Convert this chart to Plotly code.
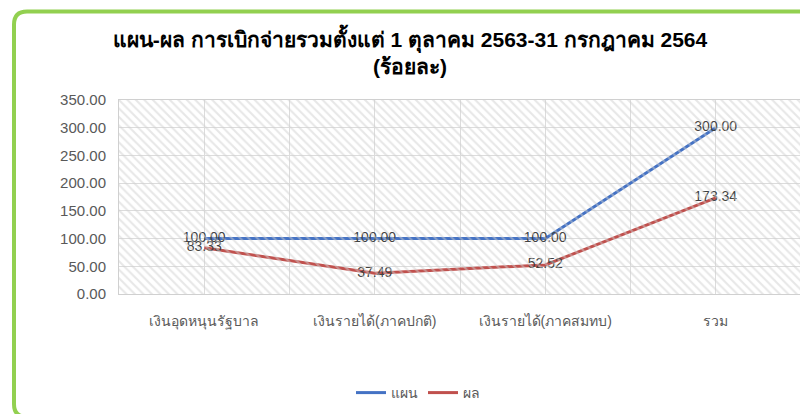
import plotly.graph_objects as go

categories = ["เงินอุดหนุนรัฐบาล", "เงินรายได้(ภาคปกติ)", "เงินรายได้(ภาคสมทบ)", "รวม"]
plan = [100.00, 100.00, 100.00, 300.00]
result = [83.33, 37.49, 52.52, 173.34]
series_names = ["แผน", "ผล"]
title_lines = ["แผน-ผล การเบิกจ่ายรวมตั้งแต่ 1 ตุลาคม 2563-31 กรกฎาคม 2564", "(ร้อยละ)"]

# page body has an 8px margin: convert page pixels to figure pixels
OFF = 8
W, H = 808, 414
# desired plot area in page pixels: x 119..801, y 100..294
L = 119 - OFF
R = W - (801 - OFF)
T = 100 - OFF
B = H - (294 - OFF)
pw, ph = W - L - R, H - T - B

def px(x):  # page pixel -> paper x
    return (x - OFF - L) / pw

def py(y):  # page pixel -> paper y
    return (H - B - (y - OFF)) / ph

FONT = "Liberation Sans, Noto Sans, sans-serif"
xs = list(range(len(categories)))

fig = go.Figure()
# hatched plot-area background
fig.add_trace(go.Bar(x=[0.5], y=[1], width=[1], xaxis="x2", yaxis="y2",
                     marker=dict(color="rgba(0,0,0,0)", line=dict(width=0),
                                 pattern=dict(shape="\\", fgcolor="#CFCFCF", size=6,
                                              solidity=0.35, fillmode="overlay")),
                     hoverinfo="skip", showlegend=False))
fig.add_trace(go.Scatter(x=xs, y=plan, name=series_names[0], mode="lines+text",
                         line=dict(color="#4472C4", width=3),
                         text=[f"{v:.2f}" for v in plan], textposition="middle center",
                         textfont=dict(color="#404040", size=14, family=FONT)))
fig.add_trace(go.Scatter(x=xs, y=result, name=series_names[1], mode="lines+text",
                         line=dict(color="#C0504D", width=3),
                         text=[f"{v:.2f}" for v in result], textposition="middle center",
                         textfont=dict(color="#404040", size=14, family=FONT)))

# rounded green frame (page pixels)
x0, y0, x1, y1, r = 14, 11.5, 840, 417, 13
path = (f"M {px(x0)},{py(y0 + r)} Q {px(x0)},{py(y0)} {px(x0 + r)},{py(y0)} "
        f"L {px(x1 - r)},{py(y0)} Q {px(x1)},{py(y0)} {px(x1)},{py(y0 + r)} "
        f"L {px(x1)},{py(y1 - r)} Q {px(x1)},{py(y1)} {px(x1 - r)},{py(y1)} "
        f"L {px(x0 + r)},{py(y1)} Q {px(x0)},{py(y1)} {px(x0)},{py(y1 - r)} Z")
fig.add_shape(type="path", path=path, xref="paper", yref="paper",
              line=dict(color="#92D050", width=4), layer="above")

fig.update_layout(
    width=W, height=H,
    margin=dict(l=L, r=R, t=T, b=B, autoexpand=False),
    paper_bgcolor="white", plot_bgcolor="white",
    font=dict(family=FONT, color="#595959", size=14),
    title=dict(text="<b>" + title_lines[0] + "<br>" + title_lines[1] + "</b>",
               x=px(410), xref="paper", xanchor="center",
               y=1 - (47 - OFF) / H, yref="container", yanchor="top",
               font=dict(size=21, color="#000000", family=FONT)),
    xaxis=dict(range=[-0.5, len(categories) - 0.5], tickvals=xs, ticktext=categories,
               showgrid=True, gridcolor="#DCDCDC", gridwidth=1,
               minor=dict(tickvals=[i - 0.5 for i in range(len(categories) + 1)],
                          showgrid=True, gridcolor="#DCDCDC", gridwidth=1),
               showline=True, linecolor="#D0D0D0", linewidth=1, mirror=True,
               ticks="", zeroline=False, ticklabelstandoff=14,
               tickfont=dict(size=14, color="#595959")),
    yaxis=dict(range=[0, 350], dtick=50, tickformat=".2f",
               showgrid=True, gridcolor="#DCDCDC", gridwidth=1,
               showline=True, linecolor="#D0D0D0", linewidth=1, mirror=True,
               ticks="", zeroline=False, ticklabelstandoff=9,
               tickfont=dict(size=15, color="#595959")),
    xaxis2=dict(overlaying="x", range=[0, 1], visible=False, anchor="y2"),
    yaxis2=dict(overlaying="y", range=[0, 1], visible=False, anchor="x2"),
    legend=dict(orientation="h", x=px(418), xanchor="center", y=py(393), yanchor="middle",
                font=dict(size=14, color="#595959")),
    showlegend=True,
)

fig.write_html("out.html")
